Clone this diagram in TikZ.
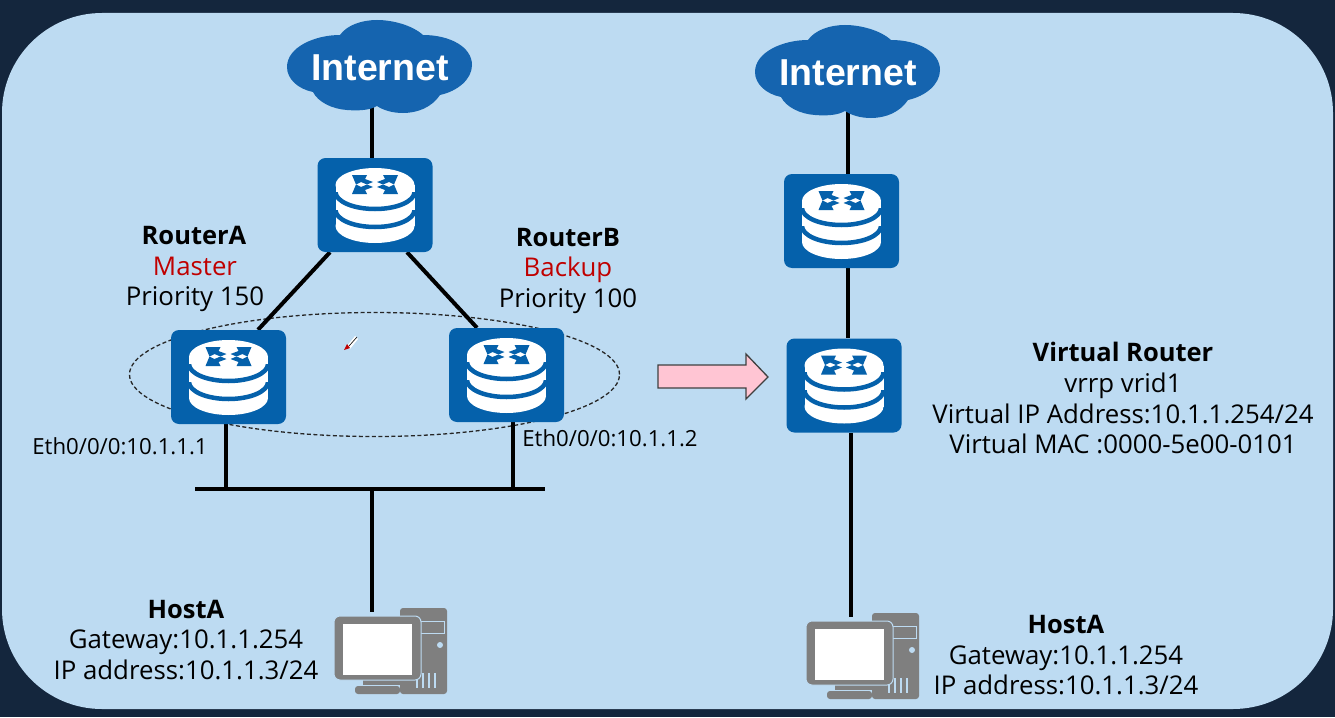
\documentclass[tikz,border=0pt]{standalone}
\usepackage{fontspec}
\setmainfont{Open Sans}
\newfontfamily\inetfont{Liberation Sans}
\pgfdeclarelayer{back}
\pgfsetlayers{back,main}
\definecolor{darkbg}{HTML}{14263D}
\definecolor{panel}{HTML}{BDDBF2}
\definecolor{routerblue}{HTML}{0561AB}
\definecolor{cloudblue}{HTML}{1564AF}
\definecolor{redtxt}{HTML}{C00000}
\definecolor{pcgray}{HTML}{7F7F7F}
\definecolor{pinkfill}{HTML}{FFC5D3}
\tikzset{
  x=1pt,y=-1pt,
  link/.style={line width=4pt,black},
  routerbox/.style={draw=none,fill=routerblue,rounded corners=8pt,minimum width=115pt,minimum height=94pt,inner sep=0pt},
  inet/.style={minimum width=185pt,minimum height=93pt,inner sep=0pt,text=white,font=\inetfont\bfseries\fontsize{37.5}{38}\selectfont},
  pcbox/.style={minimum width=112pt,minimum height=86pt,inner sep=0pt},
  txt/.style={inner sep=0pt,font=\fontsize{25.8}{26}\selectfont,text=black,anchor=center,text height=20pt,text depth=4pt},
  txtb/.style={txt,font=\bfseries\fontsize{25.5}{26}\selectfont},
  txtr/.style={txt,text=redtxt},
  txts/.style={txt,font=\fontsize{22.2}{23}\selectfont,text height=16pt,text depth=3pt},
  routericon/.pic={
    \fill[white] (-39.5,-20) rectangle (39.5,21);
    \fill[white] (0,21) ellipse [x radius=39.5pt,y radius=17pt];
    \begin{scope}
      \clip (-42,-13) rectangle (42,60);
      \draw[routerblue,line width=4.5pt] (0,-13) ellipse [x radius=39.5pt,y radius=17pt];
    \end{scope}
    \begin{scope}
      \clip (-42,5) rectangle (42,60);
      \draw[routerblue,line width=4.5pt] (0,5) ellipse [x radius=39.5pt,y radius=17pt];
    \end{scope}
    \fill[white] (0,-20) ellipse [x radius=39.5pt,y radius=17pt];
    \foreach \sx in {1,-1}{
      \fill[routerblue] (\sx*23,-30) -- (\sx*8,-30) -- (\sx*10,-26) -- (\sx*2,-23) -- (\sx*8,-20.5) -- (\sx*14,-23) -- (\sx*19,-20.5) -- cycle;
      \fill[routerblue] (\sx*23,-11) -- (\sx*8,-11) -- (\sx*10,-15) -- (\sx*2,-18) -- (\sx*8,-20.5) -- (\sx*14,-18) -- (\sx*19,-20.5) -- cycle;
    }
  },
  cloudicon/.pic={
    \fill[cloudblue] (-93,0) .. controls (-93,-20) and (-65,-32) .. (-40,-32)
      .. controls (-33,-42) and (-18,-47) .. (-3,-47)
      .. controls (12,-47) and (32,-42) .. (43,-32)
      .. controls (70,-32) and (92,-20) .. (92,-2)
      .. controls (92,12) and (78,24) .. (60,28)
      .. controls (52,40) and (38,46) .. (23,46)
      .. controls (12,46) and (3,43) .. (-3,39)
      .. controls (-10,43) and (-20,44) .. (-33,43)
      .. controls (-48,42) and (-62,35) .. (-67,25)
      .. controls (-82,22) and (-93,12) .. (-93,0) -- cycle;
  },
  pcicon/.pic={
    \fill[pcgray,rounded corners=3pt] (9,-43) rectangle (56,43);
    \draw[panel,line width=1pt] (29,-30) rectangle (53,-18);
    \fill[panel] (49,-6) circle [radius=3pt];
    \foreach \vx in {26,32,38,44}{\draw[panel,line width=1.2pt] (\vx,22) -- (\vx,37);}
    \fill[pcgray] (-28,26) rectangle (9,34);
    \fill[pcgray,rounded corners=3pt] (-36,35) rectangle (9,43);
    \filldraw[fill=pcgray,draw=panel,line width=1pt,rounded corners=6pt] (-57,-35) rectangle (30,29);
    \fill[white] (-48,-27) rectangle (21,24);
  }
}
\begin{document}
\begin{tikzpicture}
\useasboundingbox (0,0) rectangle (1335,717);
\begin{pgfonlayer}{back}
  \fill[darkbg] (0,0) rectangle (1335,717);
  \fill[panel,rounded corners=100pt] (2,13) rectangle (1333,709);
\end{pgfonlayer}

% left side
\pic at (380,67) {cloudicon};
\node[inet] (inetL) at (380,68) {Internet};
\node[routerbox] (rtop) at (375,205) {};
\pic at (rtop) {routericon};
\node[routerbox] (ra) at (228.5,377) {};
\pic at (ra) {routericon};
\node[routerbox] (rb) at (506.5,375) {};
\pic at (rb) {routericon};
\node[minimum width=350pt,minimum height=4pt,inner sep=0pt,fill=black] (bus) at (370,489) {};
\node[pcbox] (pcL) at (391,651) {};
\pic at (pcL) {pcicon};
\node[draw=none,minimum width=491pt,minimum height=125pt,inner sep=0pt] (vrrpring) at (374.5,374.5) {};

% right side
\pic at (848,72) {cloudicon};
\node[inet] (inetR) at (848,73) {Internet};
\node[routerbox] (r1) at (841.5,221) {};
\pic at (r1) {routericon};
\node[routerbox] (r2) at (844,385.5) {};
\pic at (r2) {routericon};
\node[pcbox] (pcR) at (863,656) {};
\pic at (pcR) {pcicon};

\begin{pgfonlayer}{back}
  \draw[black!85,line width=1.3pt,dashed,dash pattern=on 4pt off 2.5pt] (vrrpring.center) ellipse [x radius=245pt,y radius=62pt];
  \draw[link] ([shift={(-8,-8)}]inetL.south) -- ([shift={(-3,0)}]rtop.north);
  \draw[link] ([shift={(-45,0)}]rtop.south) -- ([shift={(29.5,0)}]ra.north);
  \draw[link] ([shift={(32,0)}]rtop.south) -- ([shift={(-29.5,0)}]rb.north);
  \draw[link] ([shift={(-2.5,0)}]ra.south) -- ([shift={(-2.5,0)}]ra.south |- bus.north);
  \draw[link] ([shift={(6.5,0)}]rb.south) -- ([shift={(6.5,0)}]rb.south |- bus.north);
  \draw[link] ([shift={(2,0)}]bus.south) -- ([shift={(-19,4)}]pcL.north);
  \draw[link] ([shift={(0,-8)}]inetR.south) -- ([shift={(6.5,0)}]r1.north);
  \draw[link] ([shift={(6.5,0)}]r1.south) -- ([shift={(4,0)}]r2.north);
  \draw[link] ([shift={(7,0)}]r2.south) -- ([shift={(-12,4)}]pcR.north);
\end{pgfonlayer}

% big arrow
\filldraw[fill=pinkfill,draw=black!75,line width=1.3pt,line join=miter]
  (658,365) -- (746,365) -- (746,354) -- (768,377) -- (746,399) -- (746,388) -- (658,388) -- cycle;

% pen cursor
\fill[white] (347,346) -- (355,336) -- (358,339) -- (350,349) -- cycle;
\draw[black,line width=0.6pt] (349,346) -- (357,337);
\fill[redtxt] (344,350) -- (347,344) -- (350,348) -- cycle;

% labels
\node[txtb] (tA) at (194,236) {RouterA};
\node[txtr] (tAm) at (195,267) {Master};
\node[txt] (tAp) at (195,297) {Priority 150};
\node[txtb] (tB) at (568,238) {RouterB};
\node[txtr] (tBm) at (568,268) {Backup};
\node[txt] (tBp) at (568,299) {Priority 100};
\node[txts] (eL) at (120,448) {Eth0/0/0:10.1.1.1};
\node[txts] (eR) at (610,440) {Eth0/0/0:10.1.1.2};
\node[txtb] (hL) at (186,610) {HostA};
\node[txt] (gL) at (186,640) {Gateway:10.1.1.254};
\node[txt] (iL) at (186,671) {IP address:10.1.1.3/24};
\node[txtb] (v1) at (1123,353) {Virtual Router};
\node[txt] (v2) at (1123,384) {vrrp vrid1};
\node[txt] (v3) at (1123,415) {Virtual IP Address:10.1.1.254/24};
\node[txt] (v4) at (1123,445) {Virtual MAC :0000-5e00-0101};
\node[txtb] (hR) at (1066,625) {HostA};
\node[txt] (gR) at (1066,656) {Gateway:10.1.1.254};
\node[txt] (iR) at (1066,686) {IP address:10.1.1.3/24};
\end{tikzpicture}
\end{document}
